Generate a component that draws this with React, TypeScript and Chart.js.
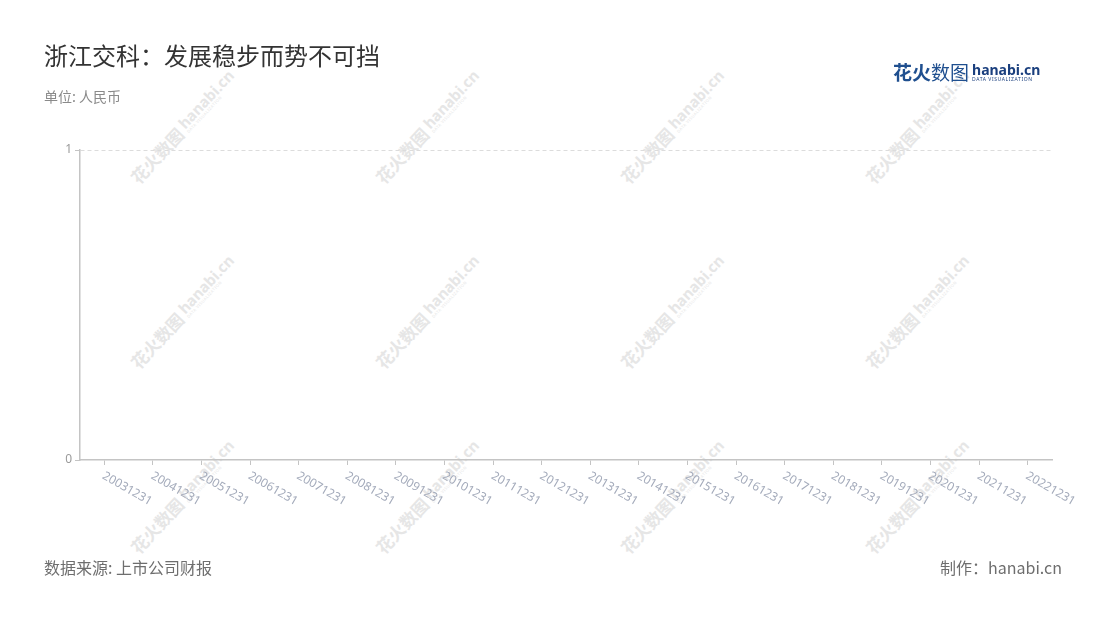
import { useEffect, useRef } from 'react'
import { Chart, registerables } from 'chart.js'
import type { Plugin } from 'chart.js'

Chart.register(...registerables)

const CATEGORIES = [
  '20031231', '20041231', '20051231', '20061231', '20071231',
  '20081231', '20091231', '20101231', '20111231', '20121231',
  '20131231', '20141231', '20151231', '20161231', '20171231',
  '20181231', '20191231', '20201231', '20211231', '20221231',
]

// the reference shows no bars at all
const VALUES: (number | null)[] = [
  null, null, null, null, null, null, null, null, null, null,
  null, null, null, null, null, null, null, null, null, null,
]

const Y_TICKS = [0, 1]

const WATERMARK_X = [183, 428, 673, 918]
const WATERMARK_Y = [127, 312, 497]

const AXIS = '#c4c4c4'
const CJK = '"Noto Sans CJK SC", "Noto Sans", sans-serif'
const LATIN = '"Noto Sans", "Noto Sans CJK SC", sans-serif'

// rotated x labels hanging down-right from each tick
const slantLabels: Plugin<'bar'> = {
  id: 'slantLabels',
  afterDraw(chart) {
    const xs = chart.scales.x
    const ctx = chart.ctx
    ctx.save()
    ctx.font = `12px ${LATIN}`
    ctx.fillStyle = '#a4abbb'
    ctx.textAlign = 'left'
    ctx.textBaseline = 'middle'
    xs.ticks.forEach((_, i) => {
      const px = xs.getPixelForTick(i)
      ctx.save()
      ctx.translate(px - 1, xs.top + 15)
      ctx.rotate(Math.PI / 6)
      ctx.fillText(String(xs.getLabelForValue(i)), 0, 0)
      ctx.restore()
    })
    ctx.restore()
  },
}

function Watermark({ x, y }: { x: number; y: number }) {
  return (
    <div
      style={{
        position: 'absolute',
        left: x,
        top: y,
        transform: 'translate(-50%, -50%) rotate(-47deg)',
        whiteSpace: 'nowrap',
        color: '#e6e6e6',
        display: 'flex',
        alignItems: 'center',
        gap: 4,
      }}
    >
      <span style={{ fontFamily: CJK, fontSize: 17, fontWeight: 700 }}>花火数图</span>
      <span style={{ display: 'flex', flexDirection: 'column', lineHeight: 1 }}>
        <span style={{ fontFamily: LATIN, fontSize: 15, fontWeight: 700 }}>hanabi.cn</span>
        <span style={{ fontFamily: LATIN, fontSize: 4, letterSpacing: 0.5 }}>DATA VISUALIZATION</span>
      </span>
    </div>
  )
}

export default function App() {
  const canvasRef = useRef<HTMLCanvasElement>(null)
  const chartRef = useRef<Chart<'bar'> | null>(null)

  useEffect(() => {
    if (!canvasRef.current) return
    if (chartRef.current) chartRef.current.destroy()

    chartRef.current = new Chart(canvasRef.current, {
      type: 'bar',
      data: {
        labels: CATEGORIES,
        datasets: [
          {
            label: '数值',
            data: VALUES,
            backgroundColor: '#2a5caa',
          },
        ],
      },
      options: {
        animation: false,
        responsive: true,
        maintainAspectRatio: false,
        layout: { padding: { left: 40, right: 48, top: 150, bottom: 155 } },
        plugins: {
          legend: { display: false },
          tooltip: { enabled: false },
        },
        scales: {
          x: {
            offset: true,
            grid: {
              offset: false,
              drawOnChartArea: false,
              drawTicks: true,
              tickLength: 5,
              tickColor: AXIS,
              tickWidth: 1,
            },
            border: { display: true, color: AXIS, width: 1.5 },
            ticks: { display: false },
            afterFit: (s) => {
              s.height = 5
            },
          },
          y: {
            min: Y_TICKS[0],
            max: Y_TICKS[Y_TICKS.length - 1],
            afterBuildTicks: (s) => {
              s.ticks = Y_TICKS.map((v) => ({ value: v }))
            },
            grid: {
              color: (c) => (c.tick && c.tick.value === 0 ? 'rgba(0,0,0,0)' : '#dcdcdc'),
              lineWidth: 1,
              tickLength: 5,
              tickColor: AXIS,
              tickWidth: 1,
              tickBorderDash: [],
            },
            border: { display: true, color: AXIS, width: 1.5, dash: [4, 3] },
            ticks: {
              color: '#9a9a9a',
              padding: 3,
              font: { family: LATIN, size: 12 },
            },
            afterFit: (s) => {
              s.width = 40
            },
          },
        },
      },
      plugins: [slantLabels],
    })

    return () => {
      if (chartRef.current) {
        chartRef.current.destroy()
        chartRef.current = null
      }
    }
  }, [])

  return (
    <div
      style={{
        position: 'fixed',
        left: 0,
        top: 0,
        width: 1100,
        height: 620,
        background: '#ffffff',
        overflow: 'hidden',
      }}
    >
      {/* watermark layer */}
      {WATERMARK_Y.map((y) =>
        WATERMARK_X.map((x) => <Watermark key={`${x}-${y}`} x={x} y={y} />)
      )}

      <div style={{ position: 'absolute', left: 0, top: 0, width: 1100, height: 620 }}>
        <canvas ref={canvasRef} />
      </div>

      {/* header */}
      <div
        style={{
          position: 'absolute',
          left: 44,
          top: 40,
          fontFamily: CJK,
          fontSize: 24,
          lineHeight: '30px',
          color: '#333333',
        }}
      >
        浙江交科：发展稳步而势不可挡
      </div>
      <div
        style={{
          position: 'absolute',
          left: 44,
          top: 87,
          fontFamily: CJK,
          fontSize: 14,
          lineHeight: '18px',
          color: '#8a8a8a',
        }}
      >
        单位: 人民币
      </div>

      {/* logo */}
      <div
        style={{
          position: 'absolute',
          left: 893,
          top: 59,
          display: 'flex',
          alignItems: 'center',
          gap: 3,
          color: '#1f4f8f',
          whiteSpace: 'nowrap',
        }}
      >
        <span style={{ fontFamily: CJK, fontSize: 19, lineHeight: '26px' }}>
          <b>花火</b>数图
        </span>
        <span style={{ display: 'flex', flexDirection: 'column', lineHeight: 1 }}>
          <span style={{ fontFamily: LATIN, fontSize: 14, fontWeight: 700, color: '#1a3f7e' }}>
            hanabi.cn
          </span>
          <span style={{ fontFamily: LATIN, fontSize: 5, letterSpacing: 0.6, color: '#1a3f7e' }}>
            DATA VISUALIZATION
          </span>
        </span>
      </div>

      {/* footer */}
      <div
        style={{
          position: 'absolute',
          left: 44,
          top: 556,
          fontFamily: CJK,
          fontSize: 16,
          lineHeight: '22px',
          color: '#6e6e6e',
        }}
      >
        数据来源: 上市公司财报
      </div>
      <div
        style={{
          position: 'absolute',
          right: 38,
          top: 556,
          fontFamily: CJK,
          fontSize: 16,
          lineHeight: '22px',
          color: '#6e6e6e',
        }}
      >
        制作：hanabi.cn
      </div>
    </div>
  )
}
